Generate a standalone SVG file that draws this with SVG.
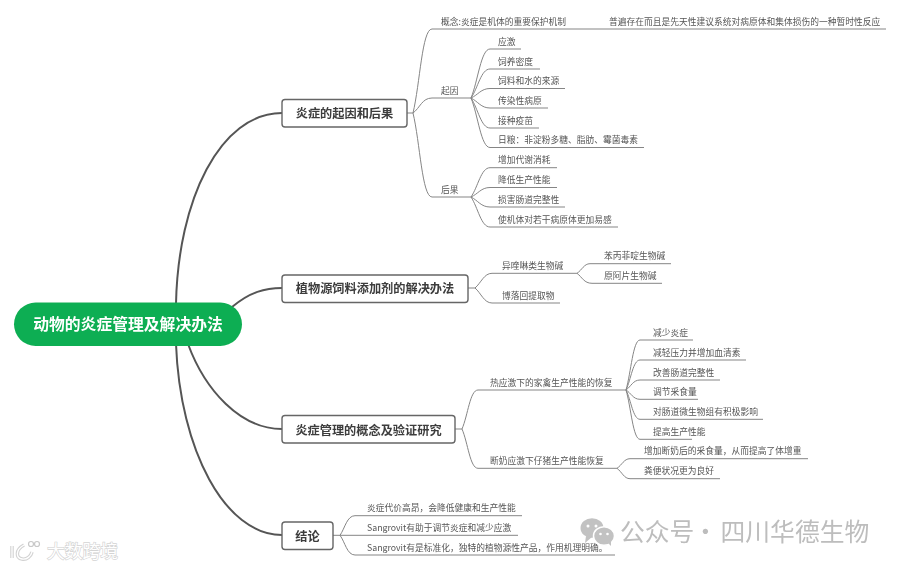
<svg xmlns="http://www.w3.org/2000/svg" width="900" height="569" viewBox="0 0 900 569">
<style>
text{font-family:"Noto Sans CJK SC","Noto Sans",sans-serif}
.main{fill:none;stroke:#555;stroke-width:2}
.sub{fill:none;stroke:#858585;stroke-width:1}
.box{fill:#fff;stroke:#666;stroke-width:1.4}
.t1{font-size:12.2px;font-weight:700;fill:#3c3c3c;text-anchor:middle}
.t2{font-size:8.75px;fill:#555}
.wm{fill:#c2c2c2}
.soft{filter:url(#soft)}
</style>
<defs><filter id="soft" filterUnits="userSpaceOnUse" x="0" y="0" width="900" height="569"><feGaussianBlur stdDeviation="0.3"/></filter></defs>
<rect width="900" height="569" fill="#fff"/>
<g id="connectors" class="soft">
<path class="main" d="M176 304C178 200 220 113 282 113"/>
<path class="main" d="M232 307C250 292 265 288 282 288"/>
<path class="main" d="M188 344C205 390 240 429 282 429"/>
<path class="main" d="M176 344C180 450 225 535 282 535"/>
<g class="sub">
<path d="M407 113H413"/>
<path d="M413 113C420 84 422 29 432 29H886"/>
<path d="M413 113C420 108 422 98 432 98H471"/>
<path d="M413 113C420 142 422 197 432 197H471"/>
<path d="M471 98C478 81 481 49 490 49H521"/>
<path d="M471 98C478 88 481 69 490 69H540"/>
<path d="M471 98C478 95 481 88.500 490 88.500H565"/>
<path d="M471 98C478 101.500 481 108 490 108H548"/>
<path d="M471 98C478 108.500 481 128 490 128H539"/>
<path d="M471 98C478 115 481 147.500 490 147.500H644"/>
<path d="M471 197C478 187 481 167.700 490 167.700H557"/>
<path d="M471 197C478 194 481 187.500 490 187.500H557"/>
<path d="M471 197C478 200.500 481 207 490 207H565"/>
<path d="M471 197C478 207.500 481 227 490 227H618"/>
<path d="M468 288H475"/>
<path d="M475 288C481 283 484 273.300 492 273.300H577"/>
<path d="M475 288C481 293 484 303 492 303H560"/>
<path d="M577 273.300C582 270 584 263.700 590 263.700H671"/>
<path d="M577 273.300C582 277 584 283.300 592 283.300H662"/>
<path d="M455 429H462"/>
<path d="M462 429C468 415 470 390 478 390H626"/>
<path d="M462 429C468 443 470 468.300 478 468.300H617"/>
<path d="M626 390C631 372.500 633 340 640 340H693"/>
<path d="M626 390C631 379.500 633 360 640 360H746"/>
<path d="M626 390C631 386.500 633 380 640 380H720"/>
<path d="M626 390C631 393 633 399.300 640 399.300H698"/>
<path d="M626 390C631 400 633 419.300 640 419.300H763"/>
<path d="M626 390C631 407 633 439.300 640 439.300H692"/>
<path d="M617 468.300C622 465 624 458.700 630 458.700H808"/>
<path d="M617 468.300C622 472 624 478.700 630 478.700H720"/>
<path d="M333 535.300H518"/>
<path d="M340 535.300C345 528 347 515.700 355 515.700H522"/>
<path d="M340 535.300C345 542 347 555 355 555H615"/>
</g>
</g>
<g id="root" class="soft"><rect x="14" y="302.500" width="228" height="43.500" rx="21.700" fill="#0fae52"/><text x="128" y="330" text-anchor="middle" font-size="15.800" font-weight="700" fill="#fff">动物的炎症管理及解决办法</text></g>
<g id="n1" class="soft"><rect class="box" x="282" y="99.500" width="125" height="27.500" rx="3"/><text class="t1" x="344.500" y="117.500">炎症的起因和后果</text></g>
<g id="n2" class="soft"><rect class="box" x="282" y="275" width="186" height="27.500" rx="3"/><text class="t1" x="375" y="293">植物源饲料添加剂的解决办法</text></g>
<g id="n3" class="soft"><rect class="box" x="282" y="415.500" width="173" height="27.500" rx="3"/><text class="t1" x="368.500" y="434.500">炎症管理的概念及验证研究</text></g>
<g id="n4" class="soft"><rect class="box" x="282" y="522" width="51" height="27.500" rx="3"/><text class="t1" x="307.500" y="540.500">结论</text></g>
<g id="labels" class="soft">
<g id="c1"><text class="t2" x="441" y="24.500">概念:炎症是机体的重要保护机制</text><text class="t2" x="609" y="24.500">普遍存在而且是先天性建议系统对病原体和集体损伤的一种暂时性反应</text></g>
<g id="c2"><text class="t2" x="441" y="94">起因</text></g>
<g id="c3"><text class="t2" x="441" y="193">后果</text></g>
<g id="c21"><text class="t2" x="498" y="44.500">应激</text></g>
<g id="c22"><text class="t2" x="498" y="64.500">饲养密度</text></g>
<g id="c23"><text class="t2" x="498" y="84">饲料和水的来源</text></g>
<g id="c24"><text class="t2" x="498" y="103.500">传染性病原</text></g>
<g id="c25"><text class="t2" x="498" y="123.500">接种疫苗</text></g>
<g id="c26"><text class="t2" x="498" y="143">日粮：非淀粉多糖、脂肪、霉菌毒素</text></g>
<g id="c31"><text class="t2" x="498" y="163">增加代谢消耗</text></g>
<g id="c32"><text class="t2" x="498" y="183">降低生产性能</text></g>
<g id="c33"><text class="t2" x="498" y="202.500">损害肠道完整性</text></g>
<g id="c34"><text class="t2" x="498" y="222.500">使机体对若干病原体更加易感</text></g>
<g id="d1"><text class="t2" x="502" y="268.800">异喹啉类生物碱</text></g>
<g id="d2"><text class="t2" x="502" y="298.500">博落回提取物</text></g>
<g id="d11"><text class="t2" x="604" y="259.200">苯丙菲啶生物碱</text></g>
<g id="d12"><text class="t2" x="604" y="278.800">原阿片生物碱</text></g>
<g id="e1"><text class="t2" x="490" y="385.500">热应激下的家禽生产性能的恢复</text></g>
<g id="e2"><text class="t2" x="490" y="463.800">断奶应激下仔猪生产性能恢复</text></g>
<g id="e11"><text class="t2" x="653" y="335.500">减少炎症</text></g>
<g id="e12"><text class="t2" x="653" y="355.500">减轻压力并增加血清素</text></g>
<g id="e13"><text class="t2" x="653" y="375.500">改善肠道完整性</text></g>
<g id="e14"><text class="t2" x="653" y="394.800">调节采食量</text></g>
<g id="e15"><text class="t2" x="653" y="414.800">对肠道微生物组有积极影响</text></g>
<g id="e16"><text class="t2" x="653" y="434.800">提高生产性能</text></g>
<g id="e21"><text class="t2" x="644" y="454.200">增加断奶后的采食量，从而提高了体增重</text></g>
<g id="e22"><text class="t2" x="644" y="474.200">粪便状况更为良好</text></g>
<g id="f1"><text class="t2" x="367" y="511.200">炎症代价高昂，会降低健康和生产性能</text></g>
<g id="f2"><text class="t2" x="367" y="530.800">Sangrovit有助于调节炎症和减少应激</text></g>
<g id="f3"><text class="t2" x="367" y="550.500">Sangrovit有是标准化，独特的植物源性产品，作用机理明确。</text></g>
</g>
<g id="wechat-mark" class="soft">
<ellipse class="wm" cx="592" cy="528" rx="11.500" ry="9.800"/><path class="wm" d="M586 536L585 543L592 537Z"/>
<ellipse cx="604" cy="536" rx="10.500" ry="9.300" fill="#c2c2c2" stroke="#fff" stroke-width="1.500"/><path class="wm" d="M608 543L611 546L611 541Z"/>
<circle cx="588" cy="526" r="1.500" fill="#fff"/><circle cx="596" cy="526" r="1.500" fill="#fff"/><circle cx="600.500" cy="534" r="1.300" fill="#fff"/><circle cx="607.500" cy="534" r="1.300" fill="#fff"/>
<text y="541" font-size="24.800" fill="#bdbdbd"><tspan x="620">公众号</tspan><tspan x="693">·</tspan><tspan x="720.500">四川华德生物</tspan></text>
</g>
<g id="corner-mark">
<path d="M12 546V558M24 545C15 550 16 558 22 559C27 560 31 556 32 552" fill="none" stroke="#d2d2d2" stroke-width="3.500"/>
<path d="M12 546V558M24 545C15 550 16 558 22 559C27 560 31 556 32 552" fill="none" stroke="#fff" stroke-width="1.300"/>
<circle cx="31" cy="544" r="2.500" fill="none" stroke="#c8c8c8" stroke-width="1.200"/><circle cx="37" cy="544" r="2.500" fill="none" stroke="#c8c8c8" stroke-width="1.200"/>
<text x="47" y="558" font-size="17.800" fill="#fff" stroke="#d4d4d4" stroke-width="1.300" paint-order="stroke">大数跨境</text>
</g>
</svg>
